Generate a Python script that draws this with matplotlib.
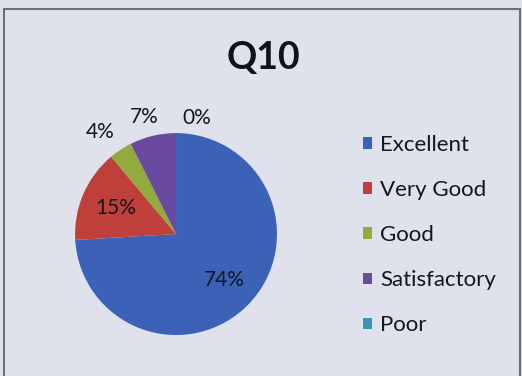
import numpy as np
import matplotlib.pyplot as plt
from matplotlib.patches import Patch, Rectangle

# Q10 responses (counts out of 27)
categories = ['Excellent', 'Very Good', 'Good', 'Satisfactory', 'Poor']
counts = [20, 4, 1, 2, 0]
pct_labels = ['74%', '15%', '4%', '7%', '0%']
colors = ['#3b62b6', '#bf3f3b', '#93aa3c', '#6a4a9f', '#3c93bd']

bg = '#dfe2ec'
plt.rcParams['font.family'] = ['Lato', 'DejaVu Sans']

fig = plt.figure(figsize=(5.22, 3.76), dpi=100, facecolor=bg)
# chart border
fig.add_artist(Rectangle((0.007, -0.05), 0.99, 1.027, transform=fig.transFigure,
                         fill=False, edgecolor='#6e6e78', linewidth=1.5))

ax = fig.add_axes([0.1437, 0.109, 0.387, 0.537])
ax.set_facecolor(bg)
wedges, _ = ax.pie(counts, colors=colors, startangle=90, counterclock=False,
                   radius=1.0, wedgeprops=dict(linewidth=0))
ax.set_xlim(-1, 1)
ax.set_ylim(-1, 1)
ax.set_aspect('equal')
ax.axis('off')

# label placement: inside for big slices, outside for small ones
label_r = [0.66, 0.65, 1.26, 1.2, 1.17]
label_shift = [0, 0, 3, 2, -10]
for w, lab, r, sh in zip(wedges, pct_labels, label_r, label_shift):
    ang = np.deg2rad((w.theta1 + w.theta2) / 2 + sh)
    ax.text(r * np.cos(ang), r * np.sin(ang), lab, ha='center', va='center',
            fontsize=15, color='#15151c', clip_on=False)

fig.text(263 / 522, 1 - 58 / 376, 'Q10', ha='center', va='center',
         fontsize=27, fontweight='bold', color='#111118')

handles = [Patch(facecolor=c, edgecolor='none') for c in colors]
fig.legend(handles, categories, loc='upper left',
           bbox_to_anchor=(0.695, 0.642), frameon=False,
           prop=dict(size=16),
           handlelength=0.43, handleheight=0.43, handletextpad=0.36,
           labelspacing=1.135, borderpad=0, borderaxespad=0,
           labelcolor='#15151c')

fig.savefig('out.png', dpi=100, facecolor=bg)
